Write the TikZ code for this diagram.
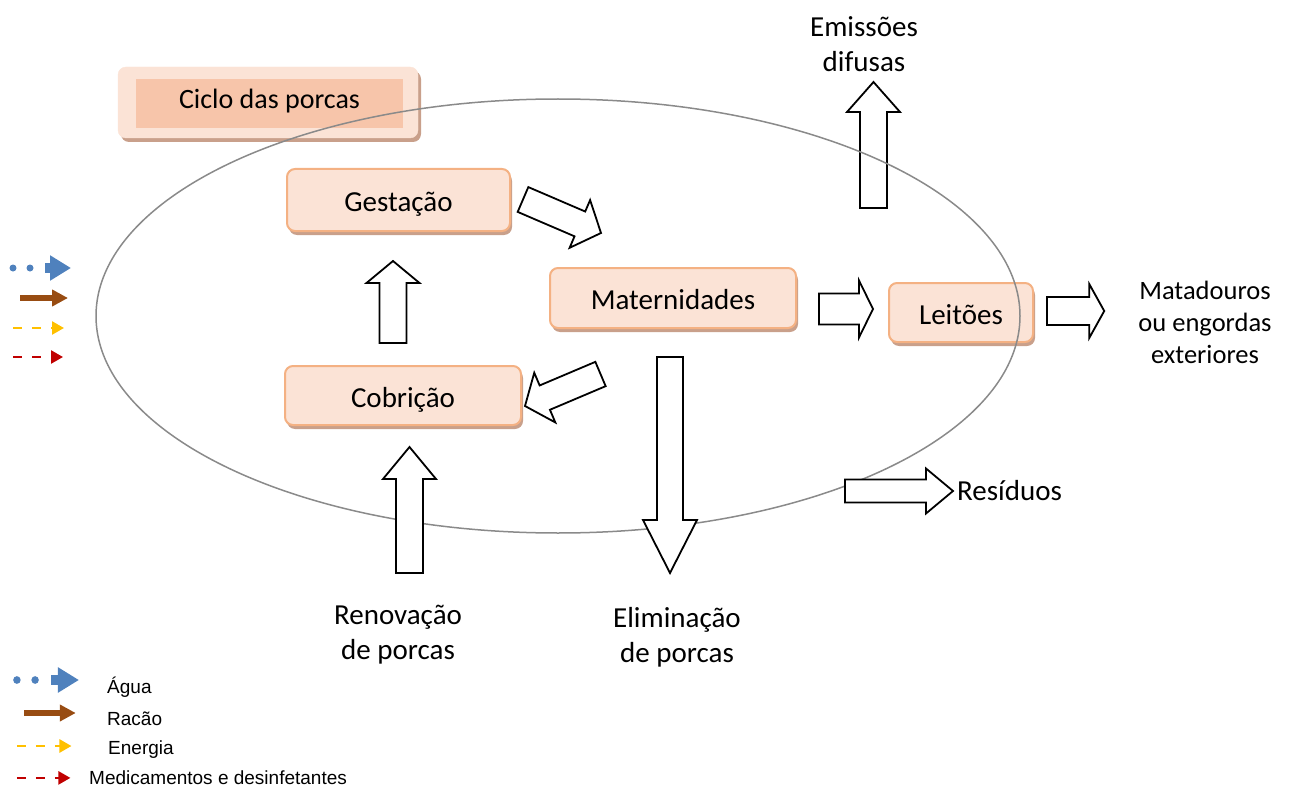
\documentclass[tikz,border=0pt]{standalone}
\usepackage{fontspec}
\setmainfont{Carlito}
\newfontfamily\legfont{Liberation Sans}
\usetikzlibrary{calc,shadows,arrows.meta}

\definecolor{boxfill}{HTML}{FBE3D6}
\definecolor{boxline}{HTML}{F4B183}
\definecolor{boxshadow}{HTML}{C9A08B}
\definecolor{titlein}{HTML}{F7C5AA}
\definecolor{ringcol}{HTML}{8A8A8A}
\definecolor{aguacol}{HTML}{4F81BD}
\definecolor{racaocol}{HTML}{984C12}
\definecolor{energcol}{HTML}{FFC000}
\definecolor{medcol}{HTML}{C00000}

\tikzset{
  etapa/.style={draw=boxline, fill=boxfill, line width=2pt, rounded corners=8pt,
    drop shadow={shadow xshift=2pt, shadow yshift=-4pt, fill=boxshadow, opacity=1},
    font=\fontsize{29}{35}\selectfont, inner sep=0pt, text height=23pt, text depth=0pt},
  rotulo/.style={align=center, inner sep=0pt, font=\fontsize{29}{35}\selectfont},
  legenda/.style={anchor=west, inner sep=0pt, font=\legfont\fontsize{19}{22}\selectfont},
  fat/.style n args={3}{draw=black, fill=white, line width=1.8pt, to path={
    ($(\tikztostart)!#1!90:(\tikztotarget)$)
    -- ($(\tikztotarget)!#3!(\tikztostart)!#1!90:(\tikztotarget)$)
    -- ($(\tikztotarget)!#3!(\tikztostart)!#2!90:(\tikztotarget)$)
    -- (\tikztotarget)
    -- ($(\tikztotarget)!#3!(\tikztostart)!#2!-90:(\tikztotarget)$)
    -- ($(\tikztotarget)!#3!(\tikztostart)!#1!-90:(\tikztotarget)$)
    -- ($(\tikztostart)!#1!-90:(\tikztotarget)$) -- cycle}}
}

\begin{document}
\begin{tikzpicture}[x=1pt,y=-1pt]
  \useasboundingbox (0,0) rectangle (1291,789);
  % caixas
  \node[draw=boxfill, fill=boxfill, rounded corners=8pt, minimum width=300pt, minimum height=71pt, inner sep=0pt,
    drop shadow={shadow xshift=3pt, shadow yshift=-4pt, fill=boxshadow, opacity=1}] (ciclo) at (268,102.5) {};
  \node[fill=titlein, minimum width=267pt, minimum height=49pt, inner sep=0pt, text height=17pt, text depth=7.6pt,
    font=\fontsize{28}{34}\selectfont] (ciclotxt) at (269.5,103.5) {Ciclo das porcas};
  \node[etapa, minimum width=223pt, minimum height=62pt] (gest) at (398.5,200) {Gestação};
  \node[etapa, minimum width=246pt, minimum height=60pt] (mat) at (673,298) {Maternidades};
  \node[etapa, minimum width=144pt, minimum height=59pt] (leit) at (961,312.5) {Leitões};
  \node[etapa, minimum width=236pt, minimum height=59pt] (cob) at (403,395.5) {Cobrição};
  % textos
  \node[rotulo] (emis) at (864,44) {Emissões\\difusas};
  \node[rotulo, font=\fontsize{26.5}{32}\selectfont] (matad) at (1205,322) {Matadouros\\ou engordas\\exteriores};
  \node[rotulo, anchor=west] (res) at (957,491) {Resíduos};
  \node[rotulo] (reno) at (398,635) {Renovação\\de porcas};
  \node[rotulo] (elim) at (677,637) {Eliminação\\de porcas};
  \coordinate (emisin) at (873.5,208);
  \coordinate (resin) at (845,491);

  \draw[fat={13.5pt}{26.5pt}{30pt}] (emisin) to ($(emis.center)+(9.5,38)$);
  \draw[ringcol, line width=1.5pt] (558,316) ellipse [x radius=462pt, y radius=217pt];

  % setas largas
  \draw[fat={13.5pt}{26pt}{23pt}] ($(gest.east)+(12,-0.5)$) to ($(mat.north west)+(52,-34)$);
  \draw[fat={13.5pt}{26.5pt}{22pt}] ($(cob.north)+(-10,-22)$) to ($(gest.south)+(-5.5,29)$);
  \draw[fat={13.2pt}{27pt}{21.5pt}] ($(mat.south west)+(51.5,45)$) to ($(cob.east)+(3,10.5)$);
  \draw[fat={15.5pt}{28.5pt}{14pt}] ($(mat.east)+(22,11)$) to ($(leit.west)+(-15,-3.5)$);
  \draw[fat={14pt}{27pt}{15pt}] ($(leit.east)+(13,-1.5)$) to ($(matad.west)+(-34,-11)$);
  \draw[fat={13pt}{27pt}{53pt}] ($(mat.south)+(-3,28)$) to ($(elim.center)+(-7,-64)$);
  \draw[fat={13.5pt}{26.5pt}{32pt}] ($(reno.center)+(11.5,-62)$) to ($(cob.south)+(6.5,21)$);
  \draw[fat={11.5pt}{22.5pt}{27pt}] (resin) to ($(res.west)+(-4,0)$);

  % legenda
  \foreach \lx/\ly/\lxs/\lys in {0/268/1/1,3/680/1.07/1.1}{
    \begin{scope}[shift={(\lx,\ly)},xscale=\lxs,yscale=\lys]
      \fill[aguacol] (13,0) circle (3.5pt) (30,0) circle (3.5pt);
      \draw[aguacol, line width=10pt, -{Triangle[length=21pt,width=24pt]}] (45,0)--(71,0);
      \draw[racaocol, line width=6pt, -{Triangle[length=16pt,width=16pt]}] (20,30)--(68,30);
      \draw[energcol, line width=2.5pt, dash pattern=on 9pt off 10pt, -{Triangle[length=12pt,width=13pt]}] (13,60)--(64,60);
      \draw[medcol, line width=2.5pt, dash pattern=on 9pt off 10pt, -{Triangle[length=12pt,width=13pt]}] (13,89)--(63,89);
    \end{scope}
  }
  \node[legenda] (lagua) at (107,687) {Água};
  \node[legenda] (lracao) at (107,719) {Racão};
  \node[legenda] (lenerg) at (108,750) {Energia};
  \node[legenda] (lmed) at (89,778) {Medicamentos e desinfetantes};
\end{tikzpicture}
\end{document}
